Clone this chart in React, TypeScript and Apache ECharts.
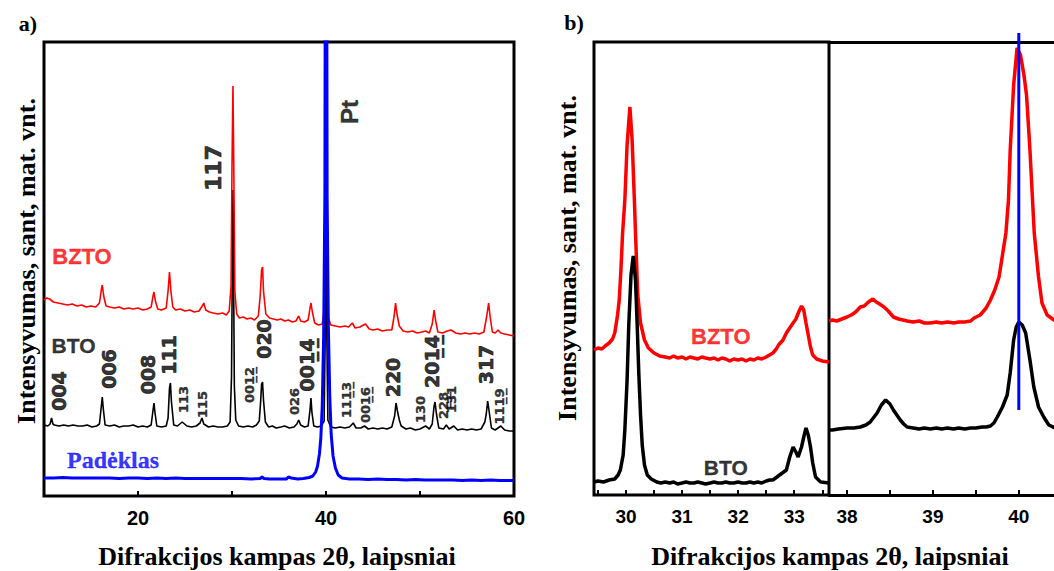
import { useEffect, useRef } from "react";
import * as echarts from "echarts";

// ---------- Panel a) data: 2θ (deg), intensity (arb. units) ----------
const btoA: number[][] = [
  [10.0,71],[10.4,70],[10.65,72],[10.8,78],[10.95,72],[11.1,71],[11.6,70],[12.1,71],[12.6,70],[13.1,71],[13.6,70],[14.1,70],[14.6,71],[15.1,69],[15.6,70],[15.9,72],[16.1,90],[16.2,99],[16.3,88],[16.5,71],[17.0,70],[17.5,71],[18.0,69],[18.5,70],[19.0,70],[19.5,71],[20.0,69],[20.5,70],[21.0,69],[21.4,71],[21.6,86],[21.7,93],[21.8,84],[22.0,70],[22.5,69],[23.0,70],[23.2,78],[23.35,108],[23.45,113],[23.55,95],[23.8,71],[24.2,70],[24.7,74],[25.2,70],[25.7,69],[26.2,70],[26.6,73],[26.8,78],[27.0,72],[27.5,69],[28.0,70],[28.5,69],[29.0,69],[29.5,70],[29.8,74],[29.95,120],[30.05,250],[30.1,306],[30.15,250],[30.25,110],[30.4,76],[30.7,70],[31.2,69],[31.7,70],[32.2,69],[32.6,71],[32.9,75],[33.05,95],[33.15,112],[33.25,114],[33.35,96],[33.55,74],[33.9,69],[34.3,70],[34.7,68],[35.2,69],[35.6,70],[36.1,68],[36.6,69],[36.9,72],[37.1,76],[37.3,71],[37.7,69],[38.1,70],[38.3,86],[38.4,98],[38.5,84],[38.7,70],[39.1,69],[39.5,70],[39.8,75],[39.9,150],[40.0,300],[40.1,150],[40.2,76],[40.5,69],[41.0,68],[41.5,69],[42.0,68],[42.5,69],[42.9,73],[43.2,68],[43.7,68],[44.1,70],[44.5,67],[45.0,68],[45.5,67],[46.0,68],[46.5,67],[47.0,69],[47.3,80],[47.45,93],[47.6,85],[47.8,76],[48.0,70],[48.5,67],[49.0,68],[49.5,66],[50.0,67],[50.6,70],[51.0,67],[51.3,72],[51.5,90],[51.6,94],[51.75,82],[52.0,68],[52.5,67],[52.8,71],[53.1,67],[53.6,70],[54.0,66],[54.5,67],[55.0,66],[55.5,67],[56.0,66],[56.5,67],[56.9,74],[57.05,82],[57.2,95],[57.35,85],[57.6,68],[58.0,66],[58.6,70],[59.0,66],[59.5,65],[60.0,65]
];
const bztoA: number[][] = [
  [10.0,196],[10.3,198],[10.6,197],[11.0,194],[11.5,193],[12.0,192],[12.5,191],[13.0,192],[13.5,190],[14.0,191],[14.5,189],[15.0,190],[15.5,189],[15.9,193],[16.1,206],[16.2,211],[16.35,200],[16.6,190],[17.0,189],[17.5,188],[18.0,189],[18.5,187],[19.0,188],[19.5,187],[20.0,188],[20.5,186],[21.0,187],[21.4,189],[21.6,200],[21.7,204],[21.85,195],[22.1,187],[22.5,186],[23.0,188],[23.2,205],[23.35,224],[23.5,205],[23.7,189],[24.0,186],[24.5,187],[25.0,185],[25.5,186],[26.0,184],[26.5,185],[26.9,191],[27.0,193],[27.2,186],[27.6,184],[28.0,183],[28.5,182],[29.0,183],[29.4,181],[29.7,185],[29.9,210],[30.0,330],[30.1,410],[30.2,320],[30.3,205],[30.5,182],[30.8,178],[31.2,179],[31.6,177],[32.0,178],[32.4,176],[32.8,180],[33.0,200],[33.15,226],[33.25,229],[33.35,205],[33.6,182],[34.0,178],[34.4,177],[34.8,176],[35.2,177],[35.6,175],[36.0,176],[36.4,174],[36.8,175],[37.1,180],[37.3,175],[37.7,174],[38.1,176],[38.3,188],[38.4,193],[38.55,184],[38.8,173],[39.2,171],[39.6,172],[39.8,185],[39.95,400],[40.05,400],[40.2,180],[40.5,171],[41.0,170],[41.5,169],[42.0,170],[42.4,169],[42.8,173],[43.1,168],[43.6,169],[44.2,172],[44.6,167],[45.0,166],[45.5,167],[46.0,165],[46.5,166],[47.0,166],[47.25,180],[47.4,193],[47.55,182],[47.8,170],[48.2,165],[48.7,164],[49.2,165],[49.7,163],[50.2,164],[50.6,165],[51.0,163],[51.3,172],[51.5,186],[51.65,176],[51.9,164],[52.4,163],[52.9,165],[53.3,166],[53.8,163],[54.3,162],[54.8,163],[55.3,162],[55.8,163],[56.3,162],[56.8,164],[57.1,180],[57.3,193],[57.45,180],[57.7,164],[58.0,163],[58.3,166],[58.6,163],[59.0,162],[59.5,161],[60.0,160]
];
const substrateA: number[][] = [
  [10.0,18],[11,18],[12,18.5],[13,18],[14,18],[15,18],[16,18],[17,18],[18,17.5],[19,18],[20,18],[21,17.5],[22,18],[23,17.5],[24,18],[25,17.5],[26,17.5],[27,17.5],[28,17.5],[29,17.5],[30,17.5],[31,17.5],[32,17],[33,17.5],[33.2,19],[33.4,17.5],[34,17],[35,17],[35.8,17],[36.0,19],[36.3,18],[37,17],[37.6,17.5],[38.2,18.5],[38.6,20],[38.9,24],[39.1,30],[39.3,42],[39.45,58],[39.6,90],[39.75,160],[39.88,300],[40.0,1000],[40.12,300],[40.25,170],[40.4,100],[40.55,62],[40.75,40],[41.0,28],[41.3,21],[41.7,18],[42.5,17],[43.5,17],[44.5,16.5],[45.5,17],[46.5,16.5],[47.5,16.5],[48.5,16],[49.5,16.5],[50.5,16],[51.5,16],[52.5,16],[53.5,16],[54.5,15.5],[55.5,16],[56.5,15.5],[57.5,16],[58.5,15.5],[59.5,15.5],[60,15.5]
];

// ---------- Panel b) data ----------
const bztoB1: number[][] = [
  [29.43,145],[29.5,147],[29.57,146],[29.63,149],[29.7,152],[29.76,156],[29.8,162],[29.85,180],[29.88,195],[29.91,225],[29.94,262],[29.98,295],[30.02,350],[30.07,388],[30.11,355],[30.15,295],[30.17,262],[30.21,200],[30.26,172],[30.33,155],[30.4,147],[30.5,142],[30.6,139],[30.7,138],[30.78,137],[30.85,139],[30.92,137],[31.0,138],[31.07,136],[31.14,138],[31.21,137],[31.28,136],[31.35,138],[31.42,137],[31.5,136],[31.57,137],[31.64,135],[31.71,137],[31.78,136],[31.85,134],[31.92,136],[32.0,135],[32.07,136],[32.14,134],[32.21,136],[32.28,135],[32.35,137],[32.42,136],[32.5,138],[32.56,140],[32.62,142],[32.68,146],[32.72,150],[32.8,155],[32.86,162],[32.92,167],[32.98,172],[33.03,176],[33.08,183],[33.13,189],[33.17,185],[33.21,172],[33.25,160],[33.29,148],[33.33,140],[33.4,136],[33.5,134],[33.62,133]
];
const btoB1: number[][] = [
  [29.43,13],[29.5,14],[29.6,13],[29.7,15],[29.8,16],[29.86,20],[29.9,25],[29.95,40],[29.98,65],[30.02,115],[30.05,170],[30.09,220],[30.13,239],[30.17,215],[30.2,170],[30.23,120],[30.26,80],[30.29,50],[30.33,30],[30.38,20],[30.45,16],[30.55,13],[30.62,12],[30.7,13],[30.78,12],[30.85,13],[30.92,11],[31.0,12],[31.07,13],[31.14,12],[31.21,12],[31.28,13],[31.35,12],[31.42,11],[31.5,12],[31.57,13],[31.64,12],[31.71,12],[31.78,13],[31.85,12],[31.92,12],[32.0,13],[32.07,12],[32.14,12],[32.21,13],[32.28,12],[32.35,13],[32.42,12],[32.5,14],[32.56,15],[32.62,15],[32.74,20],[32.86,25],[32.92,38],[32.98,48],[33.03,43],[33.07,38],[33.13,48],[33.17,58],[33.21,67],[33.25,60],[33.29,48],[33.33,32],[33.38,18],[33.47,13],[33.62,12]
];
const bztoB2: number[][] = [
  [37.79,174],[37.83,175],[37.88,174],[37.94,176],[38.0,178],[38.05,180],[38.1,183],[38.155,188],[38.2,189],[38.25,193],[38.3,196],[38.34,193],[38.38,191],[38.43,188],[38.48,184],[38.54,178],[38.6,176],[38.65,175],[38.7,174],[38.77,173],[38.84,174],[38.9,172],[38.97,172],[39.04,173],[39.1,172],[39.17,173],[39.24,172],[39.3,173],[39.37,173],[39.44,174],[39.48,177],[39.55,180],[39.62,187],[39.67,195],[39.72,205],[39.77,218],[39.81,240],[39.85,262],[39.88,295],[39.9,345],[39.94,410],[39.98,447],[40.02,440],[40.06,420],[40.09,400],[40.13,345],[40.16,295],[40.18,262],[40.23,218],[40.27,192],[40.33,180],[40.41,175],[40.5,172]
];
const btoB2: number[][] = [
  [37.79,65],[37.83,65],[37.9,66],[38.0,67],[38.08,67],[38.155,68],[38.22,70],[38.27,73],[38.35,82],[38.4,90],[38.45,95],[38.5,91],[38.54,85],[38.58,80],[38.62,75],[38.66,71],[38.7,68],[38.77,67],[38.84,66],[38.9,67],[38.97,66],[39.04,67],[39.1,66],[39.17,67],[39.24,66],[39.3,67],[39.37,66],[39.44,67],[39.5,67],[39.57,68],[39.62,68],[39.67,69],[39.71,72],[39.75,78],[39.81,88],[39.865,100],[39.9,122],[39.94,155],[39.97,168],[40.0,173],[40.04,170],[40.08,162],[40.13,135],[40.175,108],[40.23,88],[40.29,78],[40.35,70],[40.42,67],[40.5,66]
];
const ptLineB: number[][] = [[40.0,85],[40.0,462]];

// ---------- tick labels ----------
const ticksA = [20, 40, 60];
const ticksB1 = [30, 31, 32, 33];
const minorB1 = [29.5, 30, 30.5, 31, 31.5, 32, 32.5, 33, 33.5];
const ticksB2 = [38, 39, 40];
const minorB2 = [38, 38.5, 39, 39.5, 40];

// ---------- annotations (text, 2θ, intensity) ----------
const ul = (s: string) => s.split("").map((c) => c + "\u0332").join("");
const indicesA: { t: string; x: number; y: number; big: boolean }[] = [
  { t: "004", x: 11.6, y: 105, big: true },
  { t: "006", x: 16.9, y: 127, big: true },
  { t: "008", x: 21.06, y: 121.5, big: true },
  { t: "111", x: 23.3, y: 141, big: true },
  { t: "113", x: 24.79, y: 96.5, big: false },
  { t: "115", x: 26.81, y: 91.5, big: false },
  { t: "00" + ul("12"), x: 31.91, y: 111, big: false },
  { t: "020", x: 33.4, y: 157, big: true },
  { t: "026", x: 36.6, y: 94.5, big: false },
  { t: "00" + ul("14"), x: 38.03, y: 131, big: true },
  { t: "11" + ul("13"), x: 42.13, y: 96, big: false },
  { t: "00" + ul("16"), x: 44.15, y: 91, big: false },
  { t: "220", x: 47.13, y: 118.5, big: true },
  { t: "130", x: 50.0, y: 86.5, big: false },
  { t: "20" + ul("14"), x: 51.28, y: 134.5, big: true },
  { t: "2" + ul("28"), x: 52.55, y: 90.5, big: false },
  { t: "131", x: 53.4, y: 96.5, big: false },
  { t: "317", x: 57.02, y: 131.5, big: true },
  { t: "11" + ul("19"), x: 58.51, y: 89.5, big: false },
];

export default function App() {
  const ref = useRef<HTMLDivElement>(null);
  useEffect(() => {
    const chart = echarts.init(ref.current!, null, { renderer: "svg" });
    const sans = "Liberation Sans";
    const serif = "Liberation Serif";
    const gridBase = { show: true, borderColor: "#000", borderWidth: 3, backgroundColor: "transparent", outerBoundsMode: "none" };
    const tick = { show: true, inside: true, length: 5, lineStyle: { color: "#000", width: 2 } };
    const lab = { color: "#000", fontSize: 19, fontWeight: "bold", fontFamily: sans, margin: 12 };
    const line = (data: number[][], color: string, width: number, xi: number, extra: any = {}) => ({
      type: "line", data, xAxisIndex: xi, yAxisIndex: xi, showSymbol: false, symbol: "none",
      lineStyle: { color, width }, itemStyle: { color }, silent: true, z: 2, ...extra,
    });
    const labelItem = (t: string, x: number, y: number, size: number, rotate: number, color: string, family: string, stroke = 0) => ({
      value: [x, y],
      label: {
        show: true, position: "inside", formatter: t, rotate, fontSize: size, color, fontWeight: "bold", fontFamily: family,
        textBorderColor: color, textBorderWidth: stroke,
      },
    });
    const annA = indicesA.map((d) => labelItem(d.t, d.x, d.y, d.big ? 19 : 13, 90, "#000", "DejaVu Sans", d.big ? 0.7 : 0.4));
    annA.push(labelItem("117", 27.98, 328, 22, 90, "#000", "DejaVu Sans", 0.7));
    annA.push(labelItem("Pt", 42.55, 384, 24, 90, "#000", sans, 0.4));
    annA.push(labelItem("BTO", 13.14, 150.5, 21, 0, "#000", sans, 0.3));
    annA.push(labelItem("BZTO", 14.04, 240, 22, 0, "#ff0000", sans, 0.3));
    annA.push(labelItem("Padėklas", 17.34, 36, 24, 0, "#0000ff", serif, 0.3));
    const annB = [
      labelItem("BZTO", 31.69, 159, 22, 0, "#ff0000", sans, 0.3),
      labelItem("BTO", 31.78, 28, 21, 0, "#000", sans, 0.3),
    ];
    const scatter = (data: any[], xi: number) => ({
      type: "scatter", data, xAxisIndex: xi, yAxisIndex: xi, symbolSize: 0,
      itemStyle: { color: "transparent" }, silent: true, z: 5,
    });
    const edge = { show: true, lineStyle: { color: "#000", width: 3 } };

    chart.setOption({
      animation: false,
      backgroundColor: "#fff",
      grid: [
        { ...gridBase, left: 44, top: 42, width: 470, height: 454 },
        { ...gridBase, left: 594, top: 42, width: 235, height: 453 },
        { ...gridBase, show: false, left: 829, top: 42, right: 0, height: 453 },
      ],
      xAxis: [
        {
          gridIndex: 0, type: "value", min: 10, max: 60, interval: 10,
          axisLine: { show: false }, axisTick: tick, splitLine: { show: false },
          axisLabel: { ...lab, fontSize: 20, formatter: (v: number) => (ticksA.includes(v) ? String(v) : "") },
        },
        {
          gridIndex: 1, type: "value", min: 29.43, max: 33.62,
          axisLine: { show: false }, splitLine: { show: false },
          axisTick: { ...tick, customValues: minorB1 },
          axisLabel: { ...lab, customValues: ticksB1 },
        },
        {
          gridIndex: 2, type: "value", min: 37.79, max: 40.41, position: "bottom",
          axisLine: edge, splitLine: { show: false },
          axisTick: { ...tick, customValues: minorB2 },
          axisLabel: { ...lab, customValues: ticksB2 },
        },
        {
          gridIndex: 2, type: "value", min: 37.79, max: 40.41, position: "top",
          axisLine: edge, splitLine: { show: false },
          axisTick: { show: false }, axisLabel: { show: false },
        },
      ],
      yAxis: [
        { gridIndex: 0, type: "value", min: 0, max: 454, show: false },
        { gridIndex: 1, type: "value", min: 0, max: 453, show: false },
        { gridIndex: 2, type: "value", min: 0, max: 453, show: false },
      ],
      series: [
        line(btoA, "#000", 1.6, 0),
        line(bztoA, "#ff0000", 1.6, 0),
        line(substrateA, "#0000ff", 3, 0),
        scatter(annA, 0),
        line(bztoB1, "#ff0000", 3.5, 1),
        line(btoB1, "#000", 3.5, 1),
        scatter(annB, 1),
        line(bztoB2, "#ff0000", 3.5, 2),
        line(btoB2, "#000", 3.5, 2),
        line(ptLineB, "#0000ff", 3, 2, { clip: false, z: 4 }),
      ],
      graphic: [
        { type: "text", x: 28, y: 23, style: { text: "a)", fontSize: 22, fontWeight: "bold", fontFamily: serif, fill: "#000", align: "center", verticalAlign: "middle" } },
        { type: "text", x: 574, y: 22, style: { text: "b)", fontSize: 22, fontWeight: "bold", fontFamily: serif, fill: "#000", align: "center", verticalAlign: "middle" } },
        { type: "text", x: 277, y: 556, style: { text: "Difrakcijos kampas 2θ, laipsniai", fontSize: 26, fontWeight: "bold", fontFamily: serif, fill: "#000", align: "center", verticalAlign: "middle" } },
        { type: "text", x: 830, y: 556, style: { text: "Difrakcijos kampas 2θ, laipsniai", fontSize: 26, fontWeight: "bold", fontFamily: serif, fill: "#000", align: "center", verticalAlign: "middle" } },
        { type: "text", x: 26, y: 261, rotation: Math.PI / 2, style: { text: "Intensyvumas, sant, mat. vnt.", fontSize: 26, fontWeight: "bold", fontFamily: serif, fill: "#000", align: "center", verticalAlign: "middle" } },
        { type: "text", x: 567, y: 258, rotation: Math.PI / 2, style: { text: "Intensyvumas, sant, mat. vnt.", fontSize: 26, fontWeight: "bold", fontFamily: serif, fill: "#000", align: "center", verticalAlign: "middle" } },
      ],
    });
    return () => chart.dispose();
  }, []);
  return (
    <div
      ref={ref}
      style={{ position: "fixed", left: 0, top: 0, width: 1054, height: 571, background: "#fff" }}
    />
  );
}
